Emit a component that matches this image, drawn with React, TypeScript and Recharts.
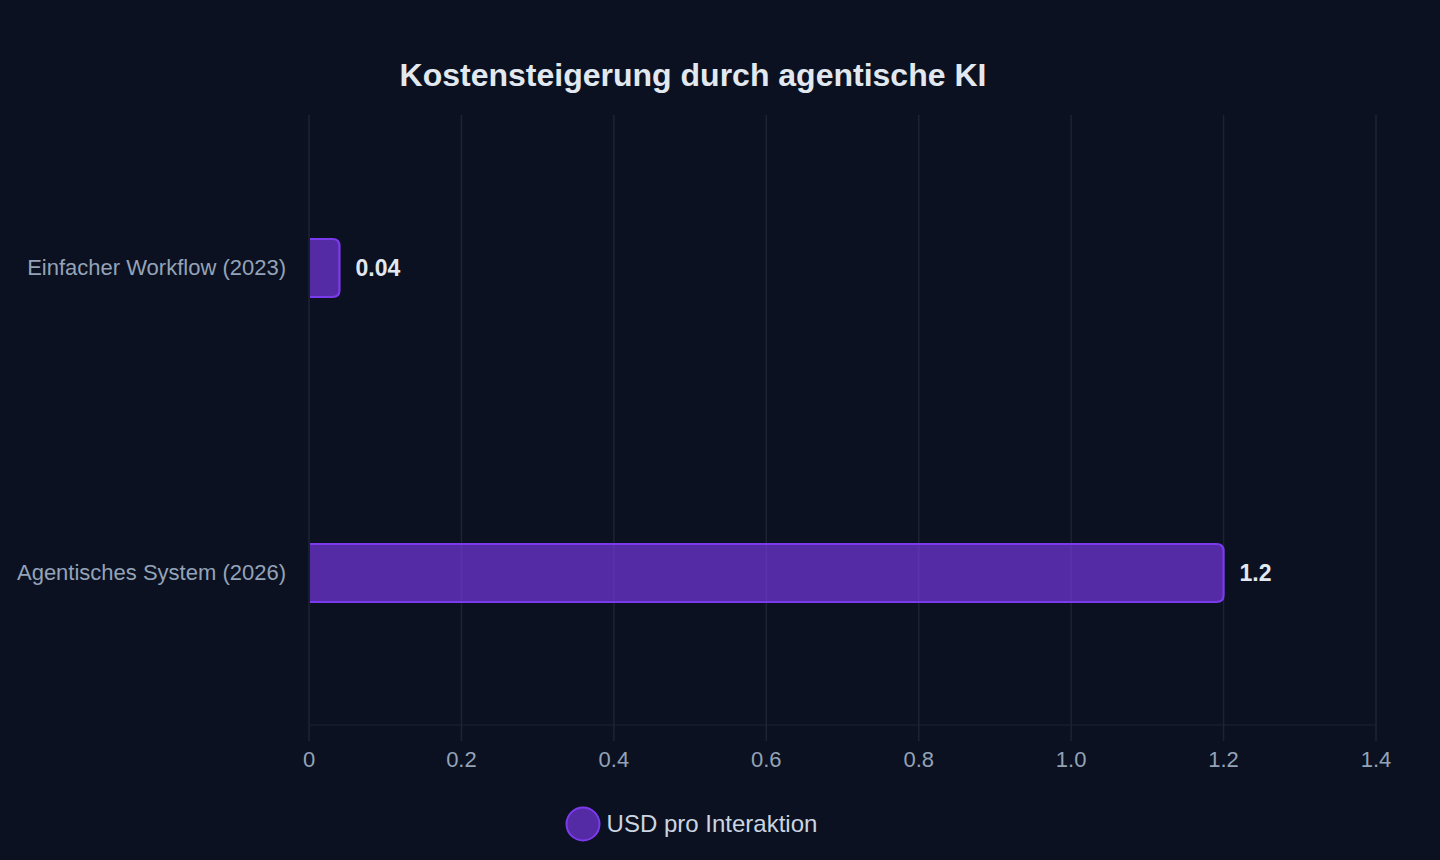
import React from "react";
import {
  BarChart,
  Bar,
  XAxis,
  YAxis,
  CartesianGrid,
  Legend,
  LabelList,
} from "recharts";

// Kosten pro Interaktion in USD
const categories = ["Einfacher Workflow (2023)", "Agentisches System (2026)"];
const costUsd = [0.04, 1.2];
const xTicks = [0, 0.2, 0.4, 0.6, 0.8, 1.0, 1.2, 1.4];
const xTickLabels = ["0", "0.2", "0.4", "0.6", "0.8", "1.0", "1.2", "1.4"];
const seriesName = "USD pro Interaktion";
const title = "Kostensteigerung durch agentische KI";

const data = categories.map((name, i) => ({ name, value: costUsd[i] }));

const BG = "#0b1120";
const BAR_FILL = "rgba(124,58,237,0.65)";
const BAR_STROKE = "#7c3aed";
const GRID = "#1c2434";
const FONT = "'Liberation Sans', Arial, sans-serif";

// Bar with rounded right end; outline drawn on top, right and bottom only
const RoundedBar = (props: any) => {
  const { x, y, width, height } = props;
  if (!width || width <= 0) return null;
  const r = Math.min(7, width / 2, height / 2);
  const x0 = x + 1;
  const outline = `M${x0},${y} H${x + width - r} Q${x + width},${y} ${x + width},${y + r} V${y + height - r} Q${x + width},${y + height} ${x + width - r},${y + height} H${x0}`;
  return (
    <g>
      <path d={`${outline} Z`} fill={BAR_FILL} />
      <path d={outline} fill="none" stroke={BAR_STROKE} strokeWidth={2.2} />
    </g>
  );
};

const LegendContent = () => (
  <div
    style={{
      display: "flex",
      alignItems: "center",
      justifyContent: "center",
      fontFamily: FONT,
      fontSize: 24,
      color: "#cbd5e1",
      height: 40,
    }}
  >
    <svg width={36} height={36} style={{ marginRight: 6 }}>
      <circle cx={18} cy={18} r={16.5} fill={BAR_FILL} stroke={BAR_STROKE} strokeWidth={2} />
    </svg>
    <span>{seriesName}</span>
  </div>
);

export default function App() {
  return (
    <div
      style={{
        position: "fixed",
        left: 0,
        top: 0,
        width: 1440,
        height: 860,
        background: BG,
        fontFamily: FONT,
      }}
    >
      <div
        style={{
          position: "absolute",
          left: 0,
          top: 56,
          width: 1386,
          textAlign: "center",
          fontSize: 32,
          fontWeight: 700,
          color: "#e2e8f0",
          lineHeight: "38px",
        }}
      >
        {title}
      </div>
      <BarChart
        width={1440}
        height={860}
        data={data}
        layout="vertical"
        margin={{ top: 115, right: 64, bottom: 0, left: 0 }}
        barCategoryGap={0}
      >
        <CartesianGrid horizontal={false} vertical stroke={GRID} strokeWidth={1.5} />
        <XAxis
          type="number"
          domain={[0, 1.4]}
          ticks={xTicks}
          tickFormatter={(v: number) => xTickLabels[xTicks.findIndex((t) => Math.abs(t - v) < 1e-9)] ?? String(v)}
          axisLine={{ stroke: GRID }}
          tickLine={{ stroke: GRID, strokeWidth: 1.5 }}
          tickSize={16}
          tickMargin={10}
          height={75}
          tick={{ fill: "#94a3b8", fontSize: 22, fontFamily: FONT }}
          interval={0}
        />
        <YAxis
          type="category"
          dataKey="name"
          width={309}
          axisLine={false}
          tickLine={false}
          tickSize={0}
          tickMargin={23}
          tick={{ fill: "#94a3b8", fontSize: 22, fontFamily: FONT }}
        />
        <Legend
          verticalAlign="bottom"
          align="center"
          height={60}
          content={() => <LegendContent />}
          wrapperStyle={{ left: 0, width: 1382, top: 804, bottom: "auto" }}
        />
        <Bar
          dataKey="value"
          name={seriesName}
          fill={BAR_FILL}
          stroke={BAR_STROKE}
          barSize={58}
          shape={<RoundedBar />}
          isAnimationActive={false}
        >
          <LabelList
            dataKey="value"
            position="right"
            offset={16}
            fill="#e2e8f0"
            fontSize={23}
            fontWeight={700}
            fontFamily={FONT}
          />
        </Bar>
      </BarChart>
    </div>
  );
}
